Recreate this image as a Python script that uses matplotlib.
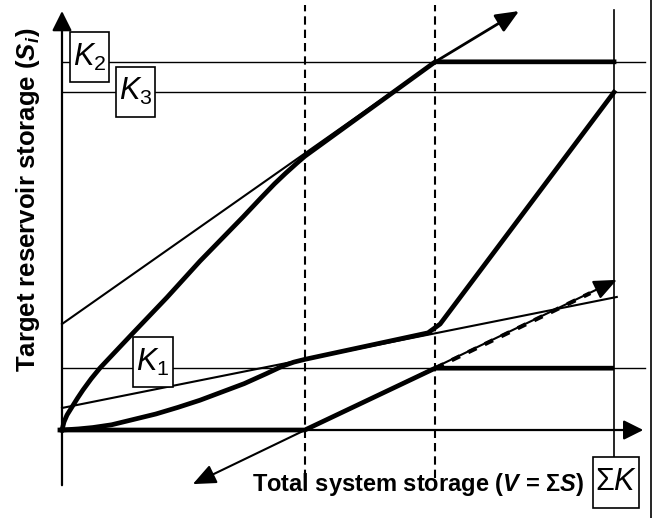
import matplotlib
matplotlib.use("Agg")
import matplotlib.pyplot as plt
from matplotlib.patches import Rectangle
from matplotlib.lines import Line2D

plt.rcParams.update({
    "font.family": "Liberation Sans",
    "mathtext.fontset": "custom",
    "mathtext.rm": "Liberation Sans",
    "mathtext.it": "Liberation Sans:italic",
    "mathtext.bf": "Liberation Sans:bold:italic",
})

# ── Schematic data (storage units, sum of capacities = 100) ────────────────
K_VALUES = [11.2, 66.7, 61.2]
SUM_K = 100.0
V_BREAKS = [44.0, 67.6]

# reservoir 1: empty until first break, then linear to K1
V_RES1 = [-0.8, 44.0, 67.6, 100.0]
S_RES1 = [0.0, 0.0, 11.2, 11.2]

# reservoir 2: fills first, reaches K2 at second break
V_RES2 = [0.0, 0.15, 0.36, 0.91, 1.81, 2.8, 3.8, 5.3, 6.88, 9.96, 12.86, 19.0, 25.0,
          32.8, 36.0, 38.5, 40.5, 42.5, 44.0, 67.6, 100.0]
S_RES2 = [0.0, 0.6, 1.45, 2.72, 4.17, 5.75, 7.25, 9.3, 11.23, 14.5, 17.57, 24.0, 30.6,
          38.6, 42.0, 44.6, 46.5, 48.3, 49.6, 66.7, 66.7]

# reservoir 3: slow start, fills to K3 at full system storage
V_RES3 = [0.0, 3.0, 5.6, 9.0, 12.9, 17.0, 21.0, 25.0, 29.0, 33.0, 37.0, 40.0, 42.0,
          44.0, 66.3, 68.5, 100.0]
S_RES3 = [0.0, 0.2, 0.45, 0.95, 1.9, 2.9, 4.1, 5.4, 6.9, 8.4, 10.2, 11.6, 12.3,
          12.8, 17.6, 19.2, 61.2]

# straight reference lines (start, end)
TAN2_V = [0.0, 67.6]
TAN2_S = [19.2, 66.7]
TAN2_ARROW = [(67.6, 66.7), (82.8, 75.9)]
TAN3_V = [0.0, 100.5]
TAN3_S = [3.99, 24.1]
EXT1_ARROW = [(23.7, -9.8), (100.5, 27.2)]
EXT1_DASH_V = [67.6, 95.7]
EXT1_DASH_S = [11.2, 24.8]

THICK = 3.4
THIN = 1.5

fig = plt.figure(figsize=(6.52, 5.18), dpi=100)
ax = fig.add_axes([0, 0, 1, 1])
ax.set_xlim(-11.23, 106.88)
ax.set_ylim(-15.94, 77.90)
ax.axis("off")

# axes with arrow heads
axis_arrow = dict(arrowstyle="-|>,head_length=0.6,head_width=0.3", lw=1.6, color="black",
                  mutation_scale=20, shrinkA=0, shrinkB=0)
ax.annotate("", xy=(105.3, 0), xytext=(0, 0), arrowprops=axis_arrow, zorder=3)
ax.annotate("", xy=(0, 75.9), xytext=(0, -10.0), arrowprops=axis_arrow, zorder=3)

# capacity levels and break points
for k in K_VALUES:
    ax.plot([0, 105.6], [k, k], color="black", lw=1.0, zorder=1)
ax.plot([SUM_K, SUM_K], [-4.9, 76.1], color="black", lw=1.2, zorder=1)
for vb in V_BREAKS:
    ax.plot([vb, vb], [-8.7, 77.0], color="black", lw=1.5, ls=(0, (4, 2.4)), zorder=2)

# thin tangents
ax.plot(TAN2_V, TAN2_S, color="black", lw=THIN, zorder=2)
ax.annotate("", xy=TAN2_ARROW[1], xytext=TAN2_ARROW[0],
            arrowprops=dict(arrowstyle="-|>,head_length=0.7,head_width=0.3", lw=2.0,
                            color="black", mutation_scale=20, shrinkA=0, shrinkB=0), zorder=2)
ax.plot(TAN3_V, TAN3_S, color="black", lw=THIN, zorder=2)
ax.annotate("", xy=EXT1_ARROW[1], xytext=EXT1_ARROW[0],
            arrowprops=dict(arrowstyle="<|-|>,head_length=0.7,head_width=0.3", lw=THIN,
                            color="black", mutation_scale=20, shrinkA=0, shrinkB=0), zorder=2)
ax.plot(EXT1_DASH_V, EXT1_DASH_S, color="black", lw=3.0, ls=(0, (2.2, 2.2)), zorder=2)

# reservoir rule curves
ax.plot(V_RES1, S_RES1, color="black", lw=THICK, solid_capstyle="butt", zorder=4)
ax.plot(V_RES2, S_RES2, color="black", lw=THICK, solid_joinstyle="round", zorder=4)
ax.plot(V_RES3, S_RES3, color="black", lw=THICK, solid_joinstyle="round", zorder=4)

# boxed labels
boxes = {
    "$K_1$": (12.86, 7.79, 7.24, 9.06),
    "$K_2$": (1.45, 63.0, 7.06, 9.1),
    "$K_3$": (9.78, 56.7, 7.07, 9.1),
    "Σ$K$": (96.2, -14.1, 8.3, 9.2),
}
for label, (x0, y0, w, h) in boxes.items():
    ax.add_patch(Rectangle((x0, y0), w, h, fc="white", ec="black", lw=1.2, zorder=5))
    ax.text(x0 + w / 2, y0 + h / 2, label, ha="center", va="center", fontsize=22, zorder=6)

ax.text(64.5, -9.96, r"Total system storage ($\mathbf{V}$ = Σ$\mathbf{S}$)",
        ha="center", va="center", fontsize=17, fontweight="bold")
ax.text(-6.16, 41.7, r"Target reservoir storage ($\mathbf{S}_{\mathbf{i}}$)",
        ha="center", va="center", rotation=90, fontsize=18.5, fontweight="bold")

# right frame edge
fig.add_artist(Line2D([0.998, 0.998], [0, 1], color="black", lw=1.2))

fig.savefig("out.png", dpi=100)
